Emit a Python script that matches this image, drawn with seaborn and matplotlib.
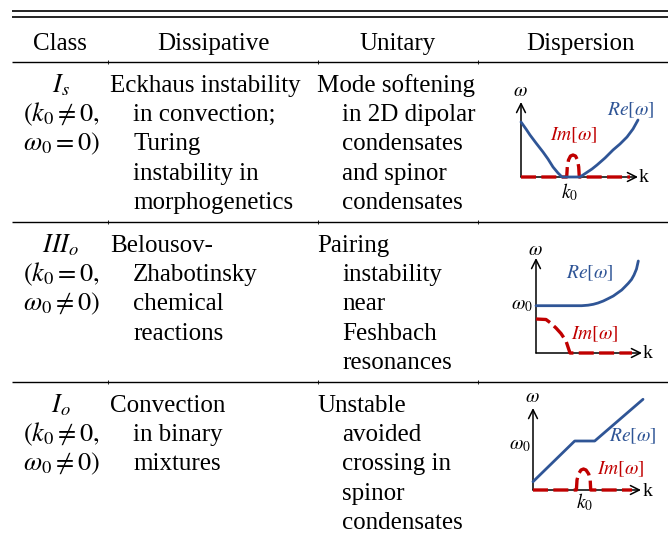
import matplotlib
matplotlib.use("Agg")
import matplotlib.pyplot as plt
import seaborn as sns
import pandas as pd

# ---------------- table content ----------------
headers = ["Class", "Dissipative", "Unitary", "Dispersion"]
class_labels = [
    [r"$I_s$", r"$(k_0 \neq 0,$", r"$\omega_0 = 0)$"],
    [r"$III_o$", r"$(k_0 = 0,$", r"$\omega_0 \neq 0)$"],
    [r"$I_o$", r"$(k_0 \neq 0,$", r"$\omega_0 \neq 0)$"],
]
dissipative = [
    ["Eckhaus instability", "in convection;", "Turing", "instability in", "morphogenetics"],
    ["Belousov-", "Zhabotinsky", "chemical", "reactions"],
    ["Convection", "in binary", "mixtures"],
]
unitary = [
    ["Mode softening", "in 2D dipolar", "condensates", "and spinor", "condensates"],
    ["Pairing", "instability", "near", "Feshbach", "resonances"],
    ["Unstable", "avoided", "crossing in", "spinor", "condensates"],
]

# ---------------- dispersion sketches (sketch units) ----------------
# Row 1: I_s
re1_k = [0, 5, 9, 15, 22, 27, 32, 37, 41, 59, 65, 71, 76, 84, 92, 99, 106, 112, 117]
re1_w = [55, 48, 42, 34, 25, 18, 10, 4, 0, 0, 4, 8, 12, 19, 27, 33, 40, 48, 57]
im1_k = [0, 45.7, 46.3, 47.5, 49.5, 52, 54.5, 56.5, 57.7, 58.3, 109]
im1_w = [0, 0, 10, 17, 21, 22, 21, 17, 10, 0, 0]

# Row 2: III_o
re2_k = [0, 45.7, 52, 57.3, 62, 67.3, 72, 77.3, 81.5, 85.7, 89, 92.3, 95.5, 98, 100.5, 102.3]
re2_w = [47.3, 47.3, 47.8, 48.7, 50, 52, 54.3, 57, 60, 63, 66.3, 69.7, 73.5, 78, 84, 92]
im2_k = [0, 10, 14, 20, 25, 30, 34, 96]
im2_w = [34, 33.5, 30.5, 25, 19.5, 12, 0, 0]

# Row 3: I_o
re3_k = [0, 41.7, 61.7, 110]
re3_w = [8.3, 49, 49, 90.7]
im3_k = [0, 43.4, 44, 45.5, 48, 50.5, 53, 55.7, 57.2, 57.7, 99]
im3_w = [0, 0, 10, 16, 20, 21, 20, 16, 10, 0, 0]

# ---------------- style ----------------
sns.set_theme(style="white")
plt.rcParams["font.family"] = ["Liberation Serif", "DejaVu Serif"]
plt.rcParams["mathtext.fontset"] = "stix"
plt.rcParams["text.color"] = "black"

W, H = 668, 538
BLUE = "#2F5596"
RED = "#C00000"
FS = 18
MFS = 19

fig = plt.figure(figsize=(W / 100, H / 100), dpi=100)
fig.patch.set_facecolor("white")
tab = fig.add_axes([0, 0, 1, 1])
tab.set_xlim(0, W)
tab.set_ylim(H, 0)
tab.axis("off")

# rules
x0, x1 = 12, W
tab.hlines([10.7, 16.7], x0, x1, color="black", lw=1.2)
for yr in [61.8, 222, 382]:
    tab.hlines(yr, x0, x1, color="black", lw=1.0)
    for xc in [108, 318, 478]:
        tab.vlines(xc, yr - 1.6, yr + 1.8, color="black", lw=0.6)

# header
for txt, xc in zip(headers, [60, 213, 398, 580]):
    tab.text(xc, 50, txt, ha="center", va="baseline", fontsize=FS)

row_base = [92, 252, 412]
LS = 29.2
for r in range(3):
    b = row_base[r]
    for i, t in enumerate(class_labels[r]):
        tab.text(61, b + i * LS, t, ha="center", va="baseline", fontsize=MFS)
    for i, t in enumerate(dissipative[r]):
        tab.text(110 if i == 0 else 133, b + i * LS, t, ha="left", va="baseline", fontsize=FS)
    for i, t in enumerate(unitary[r]):
        tab.text(317 if i == 0 else 342, b + i * LS, t, ha="left", va="baseline", fontsize=FS)


def make_inset(ox, oy, kmax, wmax):
    ax = fig.add_axes([ox / W, 1 - oy / H, kmax / W, wmax / H])
    ax.set_xlim(0, kmax)
    ax.set_ylim(0, wmax)
    ax.axis("off")
    ap = dict(arrowstyle="->", color="black", lw=1.1, shrinkA=0, shrinkB=0,
              mutation_scale=16)
    ax.annotate("", xy=(kmax, 0), xytext=(0, 0), arrowprops=ap,
                annotation_clip=False, zorder=1)
    ax.annotate("", xy=(0, wmax), xytext=(0, 0), arrowprops=ap,
                annotation_clip=False, zorder=1)
    return ax


def draw_curves(ax, rk, rw, ik, iw):
    dim = pd.DataFrame({"k": ik, "w": iw})
    dre = pd.DataFrame({"k": rk, "w": rw})
    sns.lineplot(data=dim, x="k", y="w", ax=ax, sort=False, color=RED, lw=2.4,
                 linestyle=(0, (4.5, 1.6)), clip_on=False, zorder=2, estimator=None)
    sns.lineplot(data=dre, x="k", y="w", ax=ax, sort=False, color=BLUE, lw=2.0,
                 clip_on=False, zorder=3, estimator=None)
    ax.set_xlabel("")
    ax.set_ylabel("")


LFS = 14
# Row 1
a1 = make_inset(521, 177, 117, 75)
draw_curves(a1, re1_k, re1_w, im1_k, im1_w)
a1.text(-1, 86, r"$\omega$", ha="center", va="center", fontsize=LFS)
a1.text(122.5, -1, "k", ha="center", va="center", fontsize=LFS)
a1.text(49, -15, r"$k_0$", ha="center", va="center", fontsize=LFS)
a1.text(110, 67, r"$Re[\omega]$", ha="center", va="center", fontsize=LFS, color=BLUE)
a1.text(53, 42, r"$Im[\omega]$", ha="center", va="center", fontsize=LFS, color=RED)

# Row 2
a2 = make_inset(536, 353, 106, 95)
draw_curves(a2, re2_k, re2_w, im2_k, im2_w)
a2.text(-1, 102, r"$\omega$", ha="center", va="center", fontsize=LFS)
a2.text(112, 0, "k", ha="center", va="center", fontsize=LFS)
a2.text(-14, 47, r"$\omega_0$", ha="center", va="center", fontsize=LFS)
a2.text(54, 80, r"$Re[\omega]$", ha="center", va="center", fontsize=LFS, color=BLUE)
a2.text(59, 19, r"$Im[\omega]$", ha="center", va="center", fontsize=LFS, color=RED)

# Row 3
a3 = make_inset(533, 490, 108, 82)
draw_curves(a3, re3_k, re3_w, im3_k, im3_w)
a3.text(-1, 93, r"$\omega$", ha="center", va="center", fontsize=LFS)
a3.text(115, -1, "k", ha="center", va="center", fontsize=LFS)
a3.text(-13, 45, r"$\omega_0$", ha="center", va="center", fontsize=LFS)
a3.text(100, 54, r"$Re[\omega]$", ha="center", va="center", fontsize=LFS, color=BLUE)
a3.text(88, 21, r"$Im[\omega]$", ha="center", va="center", fontsize=LFS, color=RED)
a3.text(52, -12, r"$k_0$", ha="center", va="center", fontsize=LFS)

fig.savefig("out.png", dpi=100, facecolor="white")
